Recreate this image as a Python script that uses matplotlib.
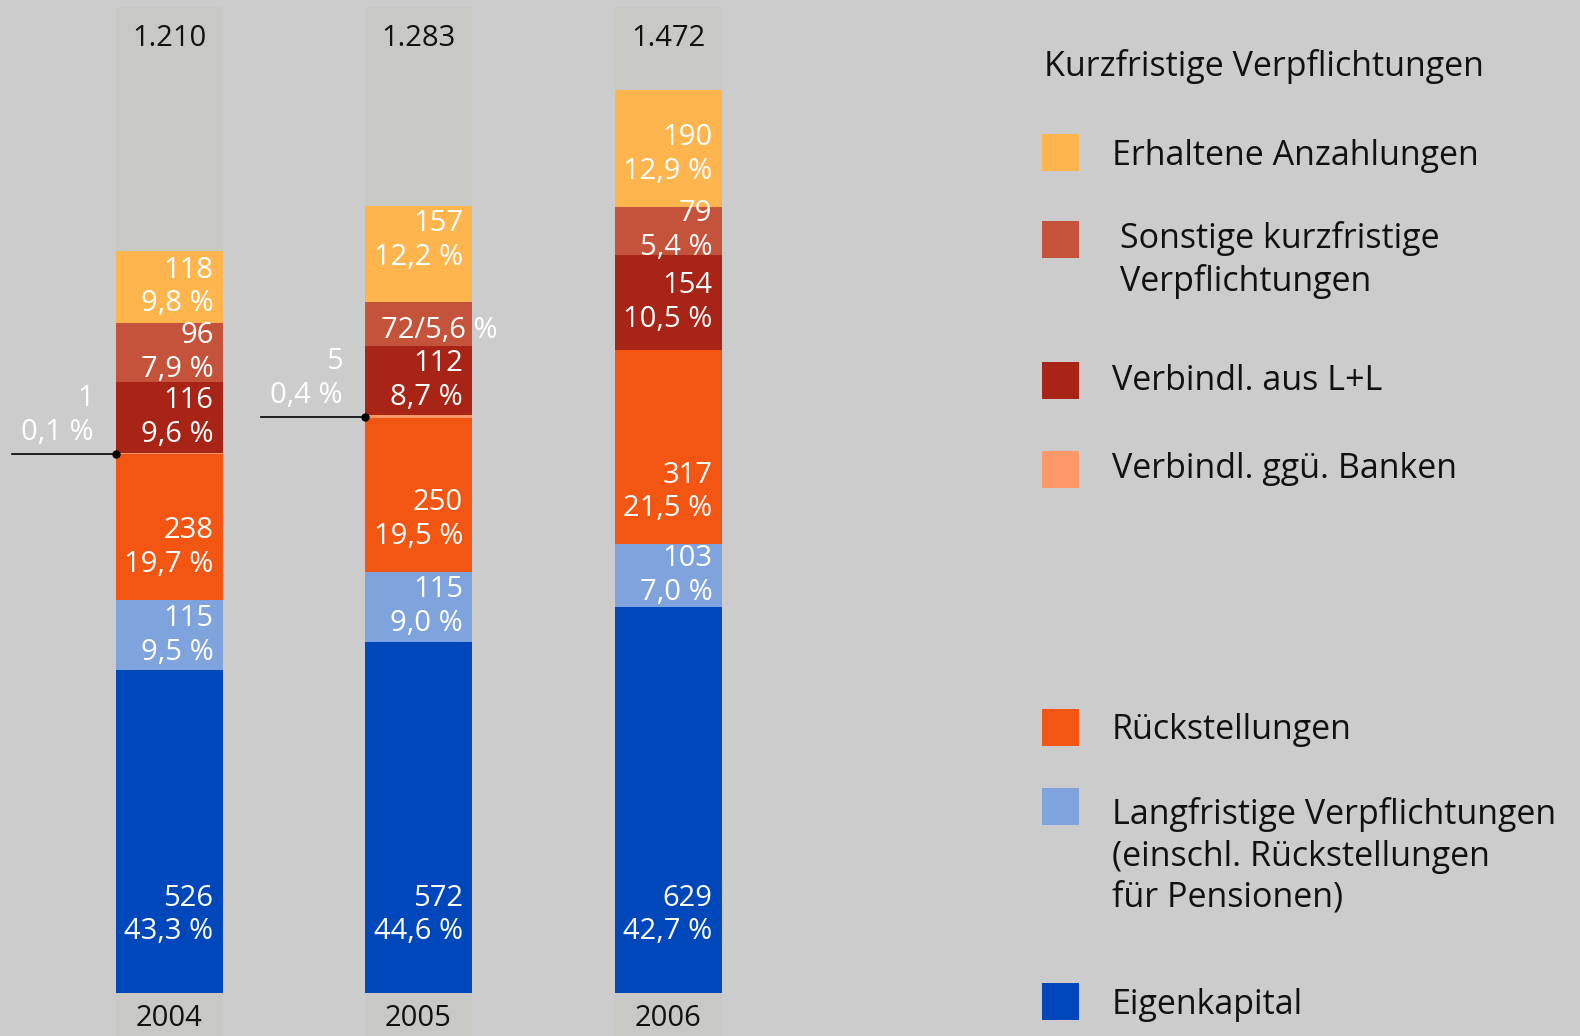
import matplotlib
matplotlib.use('Agg')
import matplotlib.pyplot as plt
from matplotlib.patches import Rectangle

plt.rcParams['font.family'] = ['Open Sans', 'DejaVu Sans']

# data (Mio. EUR)
years = ['2004', '2005', '2006']
totals = ['1.210', '1.283', '1.472']
eigenkapital = [526, 572, 629]
langfristig = [115, 115, 103]
rueckstellungen = [238, 250, 317]
banken = [1, 5, 0]
lul = [116, 112, 154]
sonstige = [96, 72, 79]
anzahlungen = [118, 157, 190]

eigen_pct = ['43,3 %', '44,6 %', '42,7 %']
lang_pct = ['9,5 %', '9,0 %', '7,0 %']
rueck_pct = ['19,7 %', '19,5 %', '21,5 %']
banken_pct = ['0,1 %', '0,4 %', '']
lul_pct = ['9,6 %', '8,7 %', '10,5 %']
sonst_pct = ['7,9 %', '5,6 %', '5,4 %']
anz_pct = ['9,8 %', '12,2 %', '12,9 %']

c_eigen = '#0047bb'
c_lang = '#7fa3dc'
c_rueck = '#f35612'
c_banken = '#ff9868'
c_lul = '#a82416'
c_sonst = '#c5523a'
c_anz = '#ffb54d'
bg = '#cccccc'
col_bg = '#c8c8c5'

W, H = 1580, 1036
fig = plt.figure(figsize=(W / 100, H / 100), dpi=100, facecolor=bg)
ax = fig.add_axes([0, 0, 1, 1])
ax.set_facecolor(bg)

# scale: px per unit
xs = 249.5
ys = 0.6134
ax.set_xlim(-169 / xs, (W - 169) / xs)
ax.set_ylim(-(H - 993) / ys, 993 / ys)
ax.axis('off')

bw = 107 / xs
pos = [0, 1, 2]

# light column behind each bar
ax.bar(pos, [(993 - 7) / ys + (H - 993) / ys] * 3, bottom=-(H - 993) / ys,
       width=bw, color=col_bg, zorder=1)

series = [
    (eigenkapital, eigen_pct, c_eigen),
    (langfristig, lang_pct, c_lang),
    (rueckstellungen, rueck_pct, c_rueck),
    (banken, banken_pct, c_banken),
    (lul, lul_pct, c_lul),
    (sonstige, sonst_pct, c_sonst),
    (anzahlungen, anz_pct, c_anz),
]

fs = 21
ls = 1.22
bottoms = [0, 0, 0]
for k, (vals, pcts, col) in enumerate(series):
    ax.bar(pos, vals, bottom=bottoms, width=bw, color=col, zorder=2)
    for i in pos:
        v = vals[i]
        b = bottoms[i]
        if v == 0:
            continue
        right = i + bw / 2 - 9 / xs
        left = i - bw / 2
        if vals is banken:
            yl = b + v / 2
            ax.plot([left - 104 / xs, left], [yl, yl], color='black', lw=1.2, zorder=4)
            ax.plot([left], [yl], marker='o', ms=5, color='black', zorder=5)
            ax.text(left - 22 / xs, yl + 38 / ys, f'{v}\n{pcts[i]}', ha='right', va='center',
                    color='white', fontsize=fs, linespacing=ls, zorder=5)
            continue
        if k == 0:
            off = 78 / ys
        elif k == 6 and i == 1:
            off = 62 / ys
        else:
            off = min(v / 2, 52 / ys)
        if v < 75:
            ax.text(left + 16 / xs, b + v / 2 - 6 / ys, f'{v}/{pcts[i]}', ha='left', va='center',
                    color='white', fontsize=fs, zorder=5)
        else:
            ax.text(right, b + off, f'{v}\n{pcts[i]}', ha='right', va='center',
                    color='white', fontsize=fs, linespacing=ls, zorder=5)
    bottoms = [bottoms[j] + vals[j] for j in pos]

for i in pos:
    ax.text(i, (993 - 38) / ys, totals[i], ha='center', va='center', fontsize=fs,
            color='#111111', zorder=5)
    ax.text(i, -(1018 - 993) / ys, years[i], ha='center', va='center', fontsize=fs,
            color='#111111', zorder=5)

# legend (figure pixel coords)
def fx(x):
    return x / W

def fy(y):
    return 1 - y / H

lfs = 24.5
fig.text(fx(1044), fy(66), 'Kurzfristige Verpflichtungen', fontsize=lfs, va='center', color='#111111')
legend_items = [
    (c_anz, 152, 1112, 'Erhaltene Anzahlungen', 156),
    (c_sonst, 239, 1120, 'Sonstige kurzfristige\nVerpflichtungen', 260),
    (c_lul, 380, 1112, 'Verbindl. aus L+L', 381),
    (c_banken, 469, 1112, 'Verbindl. ggü. Banken', 469),
    (c_rueck, 727, 1112, 'Rückstellungen', 730),
    (c_lang, 806, 1112, 'Langfristige Verpflichtungen\n(einschl. Rückstellungen\nfür Pensionen)', 856),
    (c_eigen, 1001, 1112, 'Eigenkapital', 1005),
]
for col, sy, tx, label, ty in legend_items:
    fig.patches.append(Rectangle((fx(1042), fy(sy + 18.5)), 37 / W, 37 / H,
                                 transform=fig.transFigure, facecolor=col, edgecolor='none'))
    fig.text(fx(tx), fy(ty), label, fontsize=lfs, va='center', color='#111111', linespacing=1.28)

fig.savefig('out.png', dpi=100, facecolor=bg)
